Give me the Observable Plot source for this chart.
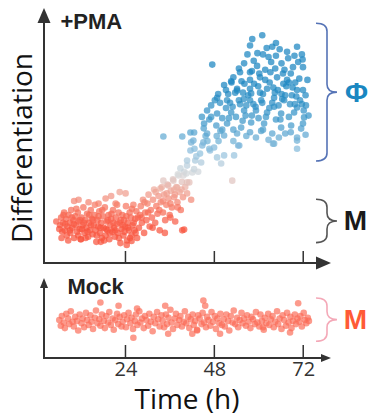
<!DOCTYPE html>
<html><head><meta charset="utf-8">
<script src="https://cdn.jsdelivr.net/npm/d3@7"></script>
<script src="https://cdn.jsdelivr.net/npm/@observablehq/plot@0.6"></script>
<style>
html,body{margin:0;padding:0;background:#fff;}
#chart{width:368px;height:416px;overflow:hidden;}
#chart svg{display:block;}
</style></head><body><div id="chart"></div>
<script>
// ---------- data ----------
const xTicks = [24, 48, 72];
const xDomain = [2, 79.5];
const yDomain = [0, 100];
const phiRange = [40, 94];
const mRange = [8, 25];
const mockRange = [21, 75];
const panelLabels = ["+PMA", "Mock"];
const stateLabels = ["Φ", "M"];
const xLabel = "Time (h)";
const yLabel = "Differentiation";
const colorStops = [14, 22, 29, 35, 43, 55, 70];
const colorRange = ["#f8553f", "#f7735e", "#eeaa9c", "#d6d8da", "#93c2de", "#3f98ca", "#1a85c0"];

// +PMA: early (monocyte-like) cells
const pmaEarly = [
[6.2,15],[6.5,18],[6.8,12.5],[7.0,16],[7.3,20],[7.5,13],[7.8,17.5],[8.0,11],[8.2,14.5],[8.5,19],[8.8,16],[9.0,12],[9.2,21],[9.5,14],[9.8,17],[10.0,10],[10.3,18.5],[10.5,15],[10.8,12.5],[11.0,20],[11.2,16.5],[11.5,13.5],[11.8,9.5],[12.0,18],[12.3,15],[12.5,22],[12.8,12],[13.0,17],[13.3,14],[13.5,19.5],[13.8,10.5],[14.0,16],[14.3,13],[14.5,21],[14.8,17.5],[15.0,11.5],[15.3,15],[15.5,19],[15.8,13],[16.0,8.5],[16.3,17],[16.5,14.5],[16.8,20.5],[17.0,12],[17.3,16],[17.5,10],[17.8,18.5],[18.0,14],[18.3,22],[18.5,11],[18.8,16.5],[19.0,13],[19.3,19],[19.5,9.5],[19.8,15],[20.0,17.5],[20.3,12.5],[20.5,21],[20.8,14],[21.0,10.5],[21.3,18],[21.5,15.5],[21.8,12],[22.0,20],[22.3,16],[22.5,8],[22.8,13.5],[23.0,19],[23.3,11],[23.5,17],[23.8,14.5],[24.0,22.5],[24.3,9],[24.5,16],[24.8,13],[25.0,20],[25.3,18],[25.5,11],[25.8,15],[26.0,23],[26.3,13],[26.5,17.5],[26.8,20.5],[27.0,10],
[6.0,13.5],[6.6,10],[7.1,19],[7.6,15.5],[8.4,9],[8.9,13],[9.4,18],[9.9,15.5],[10.6,21.5],[11.1,11],[11.6,17],[12.1,13.5],[12.6,16],[13.1,10],[13.6,12.5],[14.1,19],[14.6,15],[15.1,17],[15.6,23],[16.1,11],[16.6,18.5],[17.1,14],[17.6,21],[18.1,9],[18.6,13.5],[19.1,17],[19.6,12],[20.1,19.5],[20.6,16],[21.1,13],[21.6,23],[22.1,10],[22.6,17],[23.1,15],[23.6,12.5],[24.1,18.5],[24.6,14],[25.1,10],[25.6,21.5],[26.1,16],[26.6,12],[27.2,18],
[11.2,25],[13.9,24],[16.6,23.5],[18.5,25.5],[21.2,23.5],[22.3,28],[23.9,27.5],[10.0,24.5],[20.0,26.5],
[24.2,7.3],[25.5,8.8],[17.2,8.5],[11.8,9.5],[5.2,16.5]
];

// +PMA: transitioning cells
const pmaRise = [
[27.5,14],[27.8,19],[28.0,22.5],[28.3,16],[28.6,25],[28.9,12],[29.2,20],[29.5,17],[29.8,23.5],[30.1,27],[30.4,14.5],[30.7,21],[31.0,18],[31.3,25],[31.6,29],[31.9,16],[32.2,22.5],[32.5,19.5],[32.8,26.5],[33.1,13],[33.4,24],[33.7,30],[34.0,20],[34.3,27],[34.6,17],[34.9,23],[35.2,31],[35.5,25.5],[35.8,19],[36.1,28.5],[36.4,22],[36.7,33],[37.0,26],[37.3,16.5],[37.6,30],[37.9,24],[38.2,34.5],[38.5,28],[38.8,21],[39.1,32],[39.4,26],[39.7,36],[40.0,30],
[28.2,18],[29.0,24],[30.0,20],[31.2,14],[32.0,28],[33.0,21],[34.0,24.5],[35.0,27.5],[36.0,18],[37.0,29],[38.0,22],[39.0,29],[39.2,13],[34.5,12],
[41.4,51.4],[42.2,48.2],[44.9,47.5],[41.4,44.3],[44.0,43.1],[46.7,44.3],[48.6,41.6],[42.7,40.4],[40.5,38.4],[38.7,37.3],[41.9,35.7],[39.5,34.5],[36.8,32.5],[35.4,30.6],[34.1,32.5],[37.8,29.8],[40.5,31.8],[33.3,29.4],
[41.6,47.5],[44.6,46.3],[47.8,45.5],[50.5,42.4],[53.2,42.4],[49.7,39.2],[54.6,46.3],[40.5,40.4],[42.4,37],[44.3,39.6],[40.3,35.3],[41.1,31.8],[52.7,32.5],[40.5,27.5],[41.6,25],[39.7,13.3],
[34.1,49.8],[39.2,49.8],[43.0,42],[45.5,50],[38.0,35],[42.5,45],[46.0,48],[43.5,36],[37.2,27],[36.0,23.5]
];

// +PMA: late (macrophage-like) cells
const pmaLate = [
[58.1,88],[60.8,89.5],[64.5,86.5],[70.2,85],[71.5,82],[47.3,78],[55.9,78.5],[59.4,77.5],[63.2,79],[64.5,81.5],[67.8,80.5],[69.1,77],[71.8,77],[54.8,75],[57.5,75],[61.6,76],[64.3,76.5],[66.4,74.5],[52.4,71.5],[57.5,72],[60.2,73],[61.6,72],[64.8,73],[67.5,72],[69.7,71],[48.9,66.5],[51.6,66.5],[54.0,68.5],[55.6,67],[57.5,68.5],[60.2,67],[62.1,68.5],[65.0,68],[67.0,66],[70.2,68],[71.8,68],[49.4,63],[52.1,63],[54.8,62.5],[57.5,64],[60.8,63],[63.5,63],[66.2,64.5],[68.3,62.5],[71.5,62.5],
[48.6,65],[51.3,64],[54.0,67.8],[57.8,66.7],[60.5,64],[64.0,65],[66.7,64],[70.2,61.2],[45.9,60],[48.6,58.8],[52.4,59.2],[55.9,60],[59.1,60],[62.1,59.2],[65.9,58.8],[69.4,59.2],[72.1,57.3],[45.1,54.9],[48.4,54.1],[51.3,54.9],[55.1,53.3],[57.8,55.3],[61.3,54.9],[65.9,53.3],[68.6,54.1],[71.3,52.9],[42.4,51.4],[45.9,51],[50.5,50.2],[54.0,51],[59.1,49.4],[65.3,49.4],[70.2,49.4],
[54.3,46.3],[63.7,47],[70.2,48.2],[71.8,54.9],[64.0,47],[70.2,45],
[50.5,70],[53.0,73],[56.0,70.5],[58.5,79.5],[62.5,81],[66.0,78.5],[68.5,74.5],[70.8,72.5],[48.0,64],[51.0,61],[53.7,57.5],[55.8,64.5],[59.0,61.5],[61.8,57.5],[64.0,61.5],[65.7,56.5],[68.0,57.5],[70.0,65.5],[72.5,66],[47.0,57.5],[50.0,52.5],[53.0,48],[57.5,51.5],[61.0,52.5],[63.5,51],[68.5,51.5],[72.0,60],[45.0,53],[48.5,50],[55.5,56],[59.8,57],[64.2,67],[66.5,70.5],[69.0,69],[62.8,71],[58.6,70.5],[56.5,62],[51.8,57],[49.0,48],[46.5,45],[73.0,72],[70.5,79],[65.5,84],[62.0,84.5],[59.5,82.5],[56.8,82],[54.5,76.5],[52.5,71],[51.0,68],
[50.0,57],[52.8,61.5],[54.5,64],[56.3,58],[57.0,66],[58.4,62.5],[59.7,69.5],[61.0,66.5],[62.7,61],[63.8,69],[65.2,62],[66.0,66.5],[67.3,69.5],[68.8,66],[69.6,62.5],[71.0,64],[72.6,62],[73.3,58],[60.0,74.5],[58.0,75.5],[63.0,75],[66.8,76],[68.0,71],[55.2,71.5],[53.5,67],[47.0,62],[46.5,56.5],[44.5,57.5],[49.5,52],[53.0,52.5],[56.5,50],[62.5,48.5],[67.0,51],[72.5,50.5],[60.5,52],[64.5,56.5],[58.0,58],
[61.0,82],[63.5,85],[67.5,83],[69.5,81.5],[71.7,80],[57.5,85.5]
];

// Mock: time and differentiation
const mockTime = [
6.0,6.4,6.7,7.2,7.5,7.9,8.4,8.7,9.1,9.6,
9.9,10.3,10.8,11.1,11.5,12.0,12.3,12.7,13.2,13.5,
13.9,14.4,14.7,15.1,15.6,15.9,16.3,16.8,17.1,17.5,
18.0,18.3,18.7,19.2,19.5,19.9,20.4,20.7,21.1,21.6,
21.9,22.3,22.8,23.1,23.5,24.0,24.3,24.7,25.2,25.5,
25.9,26.4,26.7,27.1,27.6,27.9,28.3,28.8,29.1,29.5,
30.0,30.3,30.7,31.2,31.5,31.9,32.4,32.7,33.1,33.6,
33.9,34.3,34.8,35.1,35.5,36.0,36.3,36.7,37.2,37.5,
37.9,38.4,38.7,39.1,39.6,39.9,40.3,40.8,41.1,41.5,
42.0,42.3,42.7,43.2,43.5,43.9,44.4,44.7,45.1,45.6,
45.9,46.3,46.8,47.1,47.5,48.0,48.3,48.7,49.2,49.5,
49.9,50.4,50.7,51.1,51.6,51.9,52.3,52.8,53.1,53.5,
54.0,54.3,54.7,55.2,55.5,55.9,56.4,56.7,57.1,57.6,
57.9,58.3,58.8,59.1,59.5,60.0,60.3,60.7,61.2,61.5,
61.9,62.4,62.7,63.1,63.6,63.9,64.3,64.8,65.1,65.5,
66.0,66.3,66.7,67.2,67.5,67.9,68.4,68.7,69.1,69.6,
69.9,70.3,70.8,71.1,71.5,72.0,72.3,72.7,73.1,73.4,
17.1,22.0,27.0,34.6,44.9,45.4,70.5,26.0,35.4,41.9,43.2,49.4,68.3,61.0
];
const mockDiff = [
48,41,53,45,38,56,50,43,59,46,
40,52,47,35,55,44,50,39,57,48,
42,54,46,37,51,60,44,49,41,55,
47,38,53,45,58,42,50,36,48,56,
43,52,40,46,54,39,49,57,44,51,
37,47,55,42,59,45,50,38,53,48,
41,56,46,34,52,44,58,49,40,54,
47,39,55,43,51,61,45,37,50,56,
42,48,53,40,46,59,44,52,38,49,
55,42,47,36,54,50,43,57,45,39,
52,48,41,58,46,53,37,50,44,56,
42,49,40,55,47,35,53,45,60,43,
51,39,48,57,44,50,41,54,46,38,
52,49,43,58,45,40,55,47,36,51,
44,56,42,49,53,39,46,59,43,50,
37,54,48,41,57,45,52,38,47,55,
43,50,46,53,40,57,48,44,51,47,
70,66,62.5,66,72.5,66,69,26,31,31,35,31,32.5,39
];

// ---------- drawing ----------
(function () {
const axisColor = "#333";
const sansBold = "'Liberation Sans', Arial, sans-serif";
const textFont = "'Open Sans', sans-serif";

const pmaPoints = [...pmaEarly, ...pmaRise, ...pmaLate].map(([t, d]) => ({t, d}));
const mockPoints = mockTime.map((t, i) => ({t, d: mockDiff[i]}));

function axesMark(aw, al, tickLen) {
  return (index, scales) => {
    const x0 = scales.x(xDomain[0]), x1 = scales.x(xDomain[1]);
    const y0 = scales.y(yDomain[0]), y1 = scales.y(yDomain[1]);
    const g = d3.create("svg:g");
    g.append("path").attr("fill", "none").attr("stroke", axisColor).attr("stroke-width", 2)
      .attr("d", `M${x0},${y1 + al - 1}V${y0}H${x1 - al + 1}`);
    g.append("path").attr("fill", axisColor)
      .attr("d", `M${x0},${y1}L${x0 - aw},${y1 + al}L${x0 + aw},${y1 + al}Z`);
    g.append("path").attr("fill", axisColor)
      .attr("d", `M${x1},${y0}L${x1 - al},${y0 - aw}L${x1 - al},${y0 + aw}Z`);
    for (const t of xTicks) {
      const xt = scales.x(t);
      g.append("line").attr("x1", xt).attr("x2", xt).attr("y1", y0).attr("y2", y0 - tickLen)
        .attr("stroke", axisColor).attr("stroke-width", 1.5);
    }
    return g.node();
  };
}

function braceMark(range, color) {
  return (index, scales, values, dims) => {
    const right = dims.width - dims.marginRight;
    const xe = right - 15, xs = right - 4, xt = right + 6;
    const ya = scales.y(range[1]), yb = scales.y(range[0]), ym = (ya + yb) / 2, r = 8;
    const p = d3.path();
    p.moveTo(xe, ya);
    p.quadraticCurveTo(xs, ya, xs, ya + r);
    p.lineTo(xs, ym - r);
    p.quadraticCurveTo(xs, ym, xt, ym);
    p.quadraticCurveTo(xs, ym, xs, ym + r);
    p.lineTo(xs, yb - r);
    p.quadraticCurveTo(xs, yb, xe, yb);
    return d3.create("svg:path").attr("d", p.toString()).attr("fill", "none")
      .attr("stroke", color).attr("stroke-width", 1.6).node();
  };
}

const topPlot = Plot.plot({
  width: 368, height: 270,
  marginLeft: 44, marginRight: 37, marginTop: 8, marginBottom: 7,
  x: {domain: xDomain, axis: null},
  y: {domain: yDomain, axis: null},
  color: {type: "linear", domain: colorStops, range: colorRange, clamp: true},
  style: {background: "transparent", overflow: "visible"},
  marks: [
    Plot.dot(pmaPoints, {x: "t", y: "d", r: 3.3, fill: "d", fillOpacity: 0.72, stroke: "none"}),
    axesMark(6.5, 15, 12),
    braceMark(phiRange, "#5573b6"),
    braceMark(mRange, "#555"),
    Plot.text([stateLabels[0]], {text: d => d, y: (phiRange[0] + phiRange[1]) / 2, frameAnchor: "right", dx: 25,
      textAnchor: "middle", lineAnchor: "middle", fontSize: 28, fontWeight: "bold", fontFamily: sansBold, fill: "#1a87c1"}),
    Plot.text([stateLabels[1]], {text: d => d, y: (mRange[0] + mRange[1]) / 2, frameAnchor: "right", dx: 24,
      textAnchor: "middle", lineAnchor: "middle", fontSize: 28, fontWeight: "bold", fontFamily: sansBold, fill: "#1a1a1a"}),
    Plot.text([panelLabels[0]], {text: d => d, frameAnchor: "top-left", dx: 16, dy: 13,
      textAnchor: "start", lineAnchor: "middle", fontSize: 22, fontWeight: "bold", fontFamily: sansBold, fill: "#222"}),
    Plot.text([yLabel], {text: d => d, frameAnchor: "left", dx: -21, dy: 12, rotate: -90,
      textAnchor: "middle", lineAnchor: "middle", fontSize: 28, fontFamily: textFont, fill: "#111"})
  ]
});

const bottomPlot = Plot.plot({
  width: 368, height: 146,
  marginLeft: 44, marginRight: 37, marginTop: 8, marginBottom: 58,
  x: {domain: xDomain, axis: null},
  y: {domain: yDomain, axis: null},
  style: {background: "transparent", overflow: "visible"},
  marks: [
    Plot.dot(mockPoints, {x: "t", y: "d", r: 3.3, fill: "#fb6a55", fillOpacity: 0.68, stroke: "none"}),
    axesMark(4, 10, 13),
    braceMark(mockRange, "#f4a9b8"),
    Plot.axisX({ticks: xTicks, tickSize: 0, tickPadding: 3, fontSize: 20, fontFamily: textFont, fill: "#333", label: null}),
    Plot.text([stateLabels[1]], {text: d => d, y: (mockRange[0] + mockRange[1]) / 2, frameAnchor: "right", dx: 24,
      textAnchor: "middle", lineAnchor: "middle", fontSize: 28, fontWeight: "bold", fontFamily: sansBold, fill: "#ff5a36"}),
    Plot.text([panelLabels[1]], {text: d => d, frameAnchor: "top-left", dx: 23, dy: 8,
      textAnchor: "start", lineAnchor: "middle", fontSize: 22, fontWeight: "bold", fontFamily: sansBold, fill: "#222"}),
    Plot.text([xLabel], {text: d => d, frameAnchor: "bottom", dx: -1, dy: 42,
      textAnchor: "middle", lineAnchor: "middle", fontSize: 28, fontFamily: textFont, fill: "#111"})
  ]
});

document.getElementById("chart").append(topPlot, bottomPlot);
})();
</script></body></html>
